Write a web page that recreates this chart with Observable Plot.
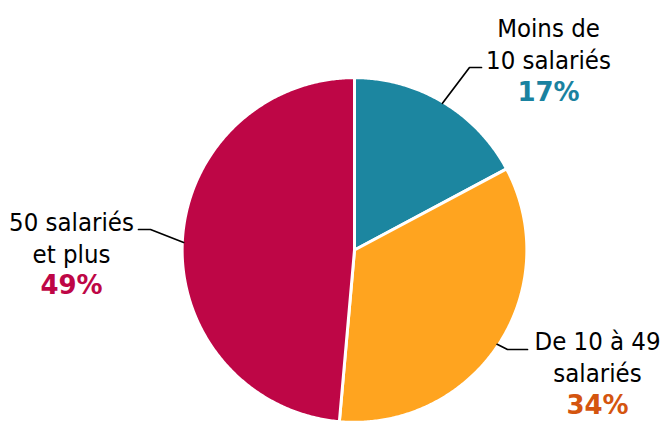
<!DOCTYPE html>
<html>
<head>
<meta charset="utf-8">
<script src="https://cdn.jsdelivr.net/npm/d3@7"></script>
<script src="https://cdn.jsdelivr.net/npm/@observablehq/plot@0.6"></script>
<style>
  html, body { margin: 0; padding: 0; background: #fff; }
  #chart { width: 670px; height: 428px; }
</style>
</head>
<body>
<div id="chart"></div>
<script>
// ---- Data ----
const categories = ["Moins de 10 salariés", "De 10 à 49 salariés", "50 salariés et plus"];
const shares = [17.2, 34.2, 48.6];
const labelLines = ["Moins de\n10 salariés", "De 10 à 49\nsalariés", "50 salariés\net plus"];
const pctLabels = ["17%", "34%", "49%"];

// ---- Styles ----
const sliceColors = ["#1c86a0", "#ffa41f", "#be0646"];
const pctColors = ["#1a82a0", "#d4550f", "#be0646"];

// ---- Layout (pixels) ----
const W = 670, H = 428, CX = 354, CY = 249.5, R = 171;
const labelLayout = [
  {tx: 548, ty: 68, py: 100, elbow: [469, 67], end: [481, 67]},
  {tx: 597, ty: 381, py: 413, elbow: [507, 349], end: [527, 349]},
  {tx: 71, ty: 262, py: 293, elbow: [150, 229], end: [138, 229]}
];
const ux = (px) => (px - CX) / R;
const uy = (py) => (CY - py) / R;

// ---- Build geometry from data ----
const table = categories.map((c, i) => ({category: c, share: shares[i], label: labelLines[i], pct: pctLabels[i], i}));
const arcs = d3.pie().sort(null).value(d => d.share)(table);
const rr = 1.008;
const slicePts = [];
arcs.forEach(a => {
  const cat = a.data.category;
  slicePts.push({cat, x: 0, y: 0});
  const n = Math.max(2, Math.ceil((a.endAngle - a.startAngle) / (Math.PI / 360)));
  for (let k = 0; k <= n; k++) {
    const t = a.startAngle + (a.endAngle - a.startAngle) * k / n;
    slicePts.push({cat, x: rr * Math.sin(t), y: rr * Math.cos(t)});
  }
});
const leaderPts = [];
arcs.forEach(a => {
  const i = a.data.i, L = labelLayout[i];
  const m = (a.startAngle + a.endAngle) / 2;
  leaderPts.push({i, x: Math.sin(m), y: Math.cos(m)});
  leaderPts.push({i, x: ux(L.elbow[0]), y: uy(L.elbow[1])});
  leaderPts.push({i, x: ux(L.end[0]), y: uy(L.end[1])});
});
const labelRows = table.map(d => ({...d, x: ux(labelLayout[d.i].tx), y: uy(labelLayout[d.i].ty), yp: uy(labelLayout[d.i].py)}));

const chart = Plot.plot({
  width: W, height: H,
  margin: 0,
  x: {domain: [-CX / R, (W - CX) / R], range: [0, W], axis: null},
  y: {domain: [-(H - CY) / R, CY / R], range: [H, 0], axis: null},
  color: {domain: categories, range: sliceColors},
  style: {background: "#fff"},
  marks: [
    Plot.line(slicePts, {x: "x", y: "y", z: "cat", fill: "cat", stroke: "#fff", strokeWidth: 3, strokeLinejoin: "round", curve: "linear-closed"}),
    Plot.line(leaderPts, {x: "x", y: "y", z: "i", stroke: "#000", strokeWidth: 1.7, curve: "linear"}),
    Plot.text(labelRows, {x: "x", y: "y", text: "label", textAnchor: "middle", lineAnchor: "bottom", lineHeight: 1.25, fontSize: 25.5, fontFamily: "DejaVu Sans Condensed, DejaVu Sans", fill: "#000"}),
    Plot.text(labelRows, {x: "x", y: "yp", text: "pct", textAnchor: "middle", lineAnchor: "bottom", fontSize: 26, fontWeight: "bold", fontFamily: "DejaVu Sans", fill: (d) => pctColors[d.i]})
  ]
});
document.getElementById("chart").appendChild(chart);
</script>
</body>
</html>
